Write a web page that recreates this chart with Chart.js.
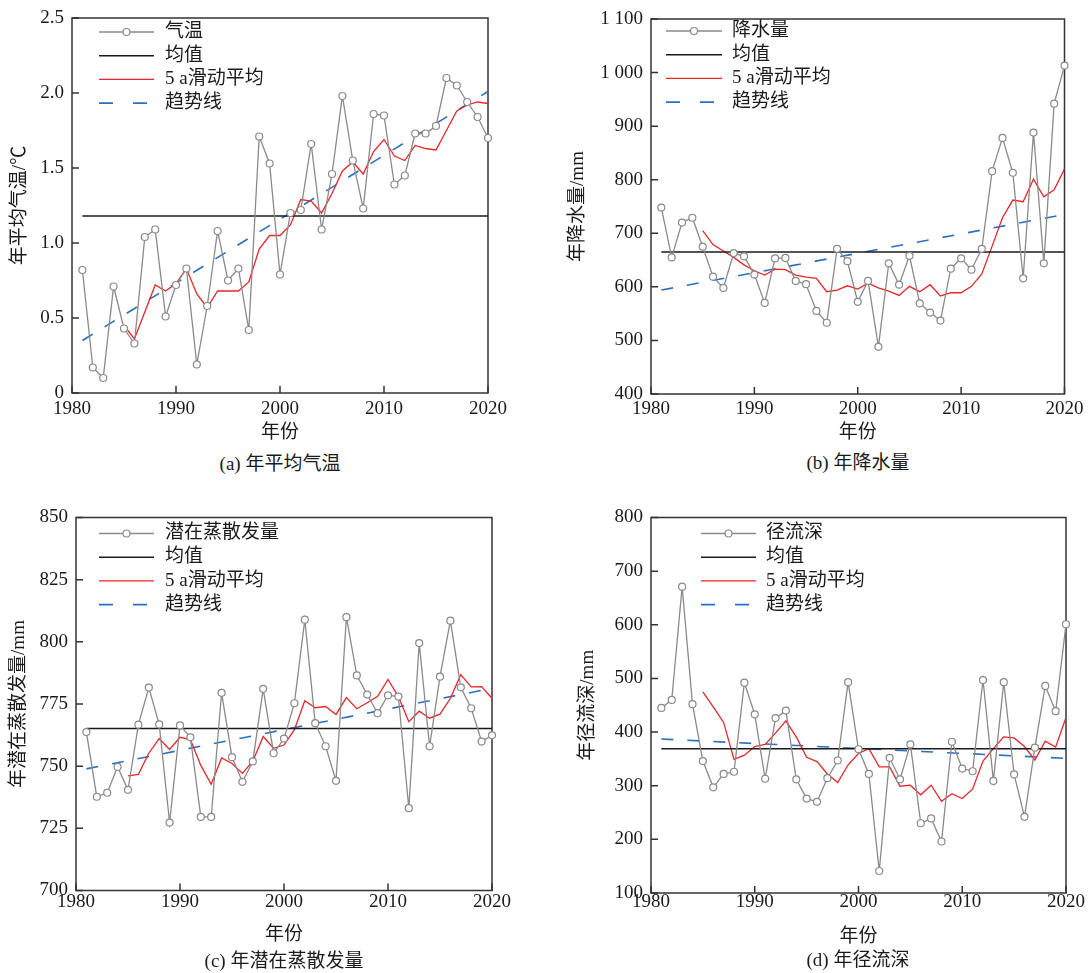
<!DOCTYPE html>
<html><head><meta charset="utf-8">
<script src="https://cdn.jsdelivr.net/npm/chart.js@4.4.0/dist/chart.umd.min.js"></script>
<style>
body{margin:0;background:#fff;width:1089px;height:973px;position:relative;overflow:hidden}
canvas{position:absolute}
.cap{position:absolute;font-size:19px;font-family:"Liberation Serif","Noto Sans CJK SC",serif;color:#1a1a1a;white-space:nowrap;transform:translate(-50%,-50%);line-height:1}
</style></head><body>
<canvas id="ca" width="540" height="450" style="left:0;top:0"></canvas>
<canvas id="cb" width="544" height="450" style="left:545px;top:0"></canvas>
<canvas id="cc" width="540" height="450" style="left:0;top:500px"></canvas>
<canvas id="cd" width="544" height="450" style="left:545px;top:500px"></canvas>
<div class="cap" style="left:280px;top:463px">(a) 年平均气温</div>
<div class="cap" style="left:858px;top:462px">(b) 年降水量</div>
<div class="cap" style="left:284px;top:960px">(c) 年潜在蒸散发量</div>
<div class="cap" style="left:858px;top:959px">(d) 年径流深</div>
<script>
const years = [1981,1982,1983,1984,1985,1986,1987,1988,1989,1990,1991,1992,1993,1994,1995,1996,1997,1998,1999,2000,2001,2002,2003,2004,2005,2006,2007,2008,2009,2010,2011,2012,2013,2014,2015,2016,2017,2018,2019,2020];
const maYears = [1985,1986,1987,1988,1989,1990,1991,1992,1993,1994,1995,1996,1997,1998,1999,2000,2001,2002,2003,2004,2005,2006,2007,2008,2009,2010,2011,2012,2013,2014,2015,2016,2017,2018,2019,2020];

// (a) 年平均气温
const tempValues = [0.82,0.17,0.10,0.71,0.43,0.33,1.04,1.09,0.51,0.72,0.83,0.19,0.58,1.08,0.75,0.83,0.42,1.71,1.53,0.79,1.20,1.22,1.66,1.09,1.46,1.98,1.55,1.23,1.86,1.85,1.39,1.45,1.73,1.73,1.78,2.10,2.05,1.94,1.84,1.70];
const tempMA = [0.45,0.36,0.54,0.72,0.68,0.73,0.83,0.66,0.57,0.68,0.68,0.68,0.74,0.96,1.05,1.05,1.12,1.29,1.28,1.20,1.33,1.48,1.54,1.46,1.61,1.69,1.58,1.55,1.65,1.63,1.62,1.75,1.88,1.92,1.94,1.93];
const tempMean = 1.18;
const tempTrend = [0.35, 2.01];

// (b) 年降水量
const precipValues = [748,655,720,729,675,619,598,663,657,623,570,653,654,611,605,555,533,671,648,572,611,488,644,604,658,569,552,537,634,653,632,671,816,878,813,616,888,644,942,1013];
const precipMA = [705,679,667,655,641,630,622,633,632,622,618,616,591,594,602,596,607,598,592,584,601,591,604,583,589,589,601,624,676,729,762,759,801,768,781,820];
const precipMean = 665;
const precipTrend = [594, 735];

// (c) 年潜在蒸散发量
const petValues = [763.7,737.7,739.3,749.7,740.5,766.7,781.6,766.8,727.3,766.4,761.6,729.6,729.6,779.5,753.6,743.7,751.9,781.1,755.2,761.1,775.3,808.9,767.3,758.0,744.1,809.9,786.5,778.8,771.3,778.5,778.0,733.1,799.5,758.0,786.0,808.5,781.7,773.3,759.9,762.4];
const petMA = [746.1,746.7,755.2,761.1,756.7,761.6,760.7,750.3,742.7,753.3,751.1,747.1,752.0,761.9,757.2,758.5,764.7,776.3,773.5,774.0,770.8,777.6,773.1,775.5,778.1,784.9,778.0,767.9,772.1,769.3,770.9,777.3,786.8,781.9,782.0,777.3];
const petMean = 765.1;
const petTrend = [748.9, 781.3];

// (d) 年径流深
const runoffValues = [445,460,671,452,346,297,322,326,492,433,313,426,440,312,276,270,314,347,493,368,322,141,352,312,377,230,239,196,382,332,327,497,309,493,321,242,371,486,439,601];
const runoffMA = [475,447,418,349,357,373,377,398,421,391,353,345,322,306,339,360,369,335,335,299,301,283,301,271,285,276,294,346,369,391,389,373,348,383,372,427];
const runoffMean = 369;
const runoffTrend = [387, 351];

const FONT = '"Liberation Serif", "Noto Sans CJK SC", serif';
const TXT = '#1a1a1a';

const framePlugin = {
  id: 'frame',
  beforeDatasetsDraw(chart) {
    const {ctx, chartArea: a, scales: {x, y}} = chart;
    ctx.save();
    ctx.strokeStyle = '#333'; ctx.lineWidth = 1.5;
    ctx.strokeRect(a.left, a.top, a.right - a.left, a.bottom - a.top);
    ctx.beginPath();
    x.ticks.forEach(t => { const p = x.getPixelForValue(t.value); ctx.moveTo(p, a.bottom); ctx.lineTo(p, a.bottom - 7); });
    y.ticks.forEach(t => { const p = y.getPixelForValue(t.value); ctx.moveTo(a.left, p); ctx.lineTo(a.left + 7, p); });
    ctx.stroke();
    ctx.restore();
  }
};

const legendPlugin = {
  id: 'boxLegend',
  afterDatasetsDraw(chart, args, o) {
    const ctx = chart.ctx;
    ctx.save();
    ctx.font = '19px ' + FONT; ctx.textBaseline = 'middle';
    chart.data.datasets.forEach((ds, i) => {
      const yy = o.y0 + i * o.dy;
      ctx.save();
      ctx.strokeStyle = ds.borderColor; ctx.lineWidth = ds.borderWidth;
      ctx.setLineDash(ds.legendDash || []);
      ctx.beginPath(); ctx.moveTo(o.x0, yy); ctx.lineTo(o.x1, yy); ctx.stroke();
      ctx.setLineDash([]);
      if (ds.pointRadius > 0) {
        ctx.beginPath(); ctx.arc((o.x0 + o.x1) / 2, yy, ds.pointRadius, 0, Math.PI * 2);
        ctx.fillStyle = ds.pointBackgroundColor; ctx.fill();
        ctx.strokeStyle = ds.pointBorderColor; ctx.lineWidth = ds.pointBorderWidth; ctx.stroke();
      }
      ctx.restore();
      ctx.fillStyle = TXT;
      ctx.fillText(ds.label, o.tx, yy);
    });
    ctx.restore();
  }
};

function makePanel(id, c) {
  const cv = document.getElementById(id);
  const W = cv.width, H = cv.height;
  new Chart(cv, {
    type: 'line',
    data: { datasets: [
      { label: c.name, data: years.map((x, i) => ({x, y: c.values[i]})), borderColor: '#8a8a8a', borderWidth: 1.3,
        pointRadius: 3.5, pointBackgroundColor: '#fff', pointBorderColor: '#8a8a8a', pointBorderWidth: 1.2, clip: false, tension: 0 },
      { label: '均值', data: [{x: 1981, y: c.mean}, {x: 2020, y: c.mean}], borderColor: '#1a1a1a', borderWidth: 1.5, pointRadius: 0 },
      { label: '5 a滑动平均', data: maYears.map((x, i) => ({x, y: c.ma[i]})), borderColor: '#e8262a', borderWidth: 1.3, pointRadius: 0, tension: 0 },
      { label: '趋势线', data: [{x: 1981, y: c.trend[0]}, {x: 2020, y: c.trend[1]}], borderColor: '#2a6fc0', borderWidth: 1.6,
        borderDash: [12, 14], legendDash: [14, 20], pointRadius: 0 }
    ]},
    options: {
      responsive: false, animation: false, events: [],
      layout: { padding: { left: 0, top: c.area.top, right: W - c.area.right, bottom: 0 } },
      plugins: { legend: { display: false }, tooltip: { enabled: false }, boxLegend: c.legend },
      scales: {
        x: {
          type: 'linear', min: 1980, max: 2020,
          grid: { display: false, drawTicks: false }, border: { display: false },
          ticks: { stepSize: 10, padding: c.xpad, color: TXT, font: { family: FONT, size: 19, lineHeight: 1 },
                   callback: v => String(v), maxRotation: 0, autoSkip: false },
          title: { display: true, text: '年份', color: TXT, font: { family: FONT, size: 19, lineHeight: 1.2 }, padding: { top: 0, bottom: c.xtp } },
          afterFit: s => { s.height = H - c.area.bottom; }
        },
        y: {
          min: c.ymin, max: c.ymax,
          grid: { display: false, drawTicks: false }, border: { display: false },
          ticks: { stepSize: c.ystep, padding: 8, color: TXT, font: { family: FONT, size: 19, lineHeight: 1 }, callback: c.yfmt, autoSkip: false },
          title: { display: true, text: c.ytitle, color: TXT, font: { family: FONT, size: 19, lineHeight: 1.2 }, padding: { top: c.ytp, bottom: 0 } },
          afterFit: s => { s.width = c.area.left; }
        }
      }
    },
    plugins: [framePlugin, legendPlugin]
  });
}

makePanel('ca', {
  name: '气温', values: tempValues, ma: tempMA, mean: tempMean, trend: tempTrend,
  area: { left: 72, right: 488, top: 18, bottom: 393 },
  ymin: 0, ymax: 2.5, ystep: 0.5, yfmt: v => v === 0 ? '0' : Number(v).toFixed(1),
  ytitle: '年平均气温/℃', ytp: 8.6, xpad: 6.5, xtp: 5.6,
  legend: { x0: 99, x1: 154, tx: 165, y0: 32, dy: 23.7 }
});
makePanel('cb', {
  name: '降水量', values: precipValues, ma: precipMA, mean: precipMean, trend: precipTrend,
  area: { left: 106, right: 521, top: 19, bottom: 394 },
  ymin: 400, ymax: 1100, ystep: 100, yfmt: v => v >= 1000 ? '1 ' + String(v).slice(1) : String(v),
  ytitle: '年降水量/mm', ytp: 21.6, xpad: 5.5, xtp: 5.6,
  legend: { x0: 121, x1: 177, tx: 187, y0: 31, dy: 23.7 }
});
makePanel('cc', {
  name: '潜在蒸散发量', values: petValues, ma: petMA, mean: petMean, trend: petTrend,
  area: { left: 76, right: 492, top: 17, bottom: 390.5 },
  ymin: 700, ymax: 850, ystep: 25, yfmt: v => String(v),
  ytitle: '年潜在蒸散发量/mm', ytp: 7.6, xpad: 2.5, xtp: 3.6,
  legend: { x0: 99, x1: 154, tx: 165, y0: 33.5, dy: 23.7 }
});
makePanel('cd', {
  name: '径流深', values: runoffValues, ma: runoffMA, mean: runoffMean, trend: runoffTrend,
  area: { left: 106, right: 521, top: 17.3, bottom: 393 },
  ymin: 100, ymax: 800, ystep: 100, yfmt: v => String(v),
  ytitle: '年径流深/mm', ytp: 31.6, xpad: 0, xtp: 1.6,
  legend: { x0: 156, x1: 211, tx: 221, y0: 33.5, dy: 23.7 }
});
</script>
</body></html>
